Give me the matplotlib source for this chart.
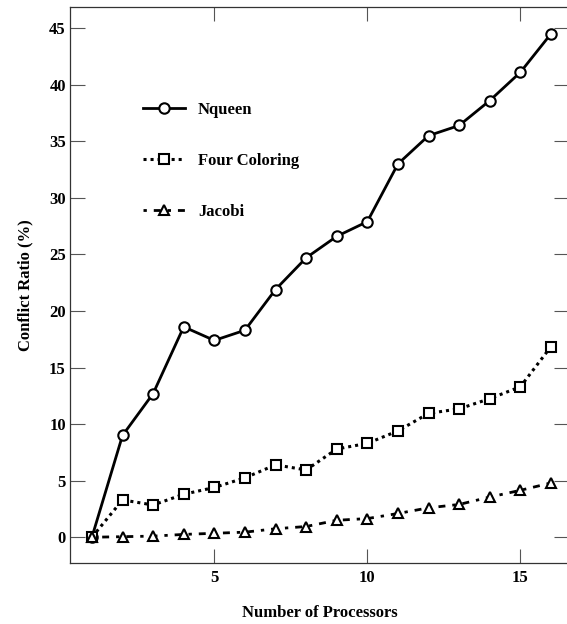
import matplotlib
matplotlib.use("Agg")
import matplotlib.pyplot as plt

processors = list(range(1, 17))
nqueen = [0, 9.0, 12.7, 18.6, 17.4, 18.3, 21.9, 24.7, 26.6, 27.9,
          33.0, 35.5, 36.4, 38.6, 41.1, 44.5]
four_coloring = [0, 3.3, 2.85, 3.8, 4.4, 5.25, 6.4, 5.95, 7.8, 8.3,
                 9.4, 10.95, 11.35, 12.25, 13.3, 16.85]
jacobi = [0, 0.05, 0.1, 0.25, 0.35, 0.45, 0.75, 0.95, 1.5, 1.65,
          2.1, 2.6, 2.9, 3.55, 4.15, 4.8]

labels = ["Nqueen", "Four Coloring", "Jacobi"]
xticks = [5, 10, 15]
yticks = [0, 5, 10, 15, 20, 25, 30, 35, 40, 45]

plt.rcParams['font.family'] = ['Liberation Serif', 'DejaVu Serif']
plt.rcParams['font.weight'] = 'bold'

FS = 12
W, H = 567, 624
fig = plt.figure(figsize=(W / 100, H / 100), dpi=100)
left, right, top, bottom = 70, 569, 6.7, 562.7
ax = fig.add_axes([left / W, 1 - bottom / H, (right - left) / W, (bottom - top) / H])

mk = dict(markerfacecolor='white', markeredgecolor='black', markeredgewidth=1.5,
          color='black', clip_on=False)
ax.plot(processors, nqueen, linestyle='-', linewidth=2.0, marker='o', markersize=7.5,
        label=labels[0], **mk)
ax.plot(processors, four_coloring, linestyle=(0, (1, 1.3)), linewidth=2.2, marker='s',
        markersize=7.5, label=labels[1], **mk)
ax.plot(processors, jacobi, linestyle=(0, (1.2, 2.5, 2.5, 2.5)), linewidth=2.0, marker='^',
        markersize=7.5, label=labels[2], **mk)

ax.set_xlim(0.284, 16.59)
ax.set_ylim(-2.25, 46.9)
ax.set_xticks(xticks)
ax.set_yticks(yticks)
ax.tick_params(axis='x', direction='in', length=10, width=0.8, color='#555555',
               top=True, labelsize=FS, pad=5)
ax.tick_params(axis='y', direction='in', length=11, width=0.8, color='#555555',
               right=True, labelsize=FS, pad=3)
for lab in ax.get_xticklabels() + ax.get_yticklabels():
    lab.set_fontweight('bold')
for s in ['left', 'bottom', 'top']:
    ax.spines[s].set_linewidth(0.9)
    ax.spines[s].set_color('#333333')
ax.spines['right'].set_visible(False)

ax.set_xlabel("Number of Processors", fontsize=FS, fontweight='bold', labelpad=14)
ax.set_ylabel("Conflict Ratio (%)", fontsize=FS, fontweight='bold', labelpad=11)

leg = ax.legend(loc='upper left', bbox_to_anchor=((143 - left) / (right - left), (bottom - 102) / (bottom - top)),
                frameon=False, fontsize=FS, handlelength=2.5, handletextpad=0.8,
                labelspacing=2.1, borderpad=0, borderaxespad=0)
for t in leg.get_texts():
    t.set_fontweight('bold')

fig.savefig("out.png", dpi=100)
